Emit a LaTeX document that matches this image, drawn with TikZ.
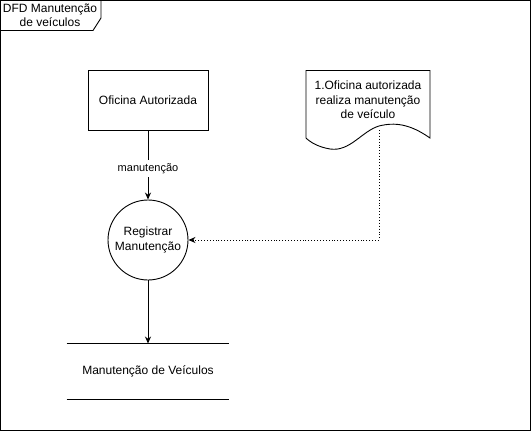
\documentclass[tikz,border=0pt]{standalone}
\usepackage{fontspec}
\setmainfont{Liberation Sans}
\usetikzlibrary{arrows.meta}
\begin{document}
\begin{tikzpicture}[x=1pt, y=-1pt, line width=0.9pt, font=\fontsize{12}{14.5}\selectfont,
  seta/.style={-{Stealth[length=7pt, width=6pt]}},
  caixa/.style={draw, minimum width=120, minimum height=60}]
  \useasboundingbox (0,0) rectangle (531,431);
  % moldura com aba do titulo
  \draw (0.5,0.5) rectangle (530.5,430.5);
  \draw (0.5,30.5) -- (93,30.5) -- (101,18) -- (101,0.5);
  \node[align=center, font=\fontsize{12}{14}\selectfont] (titulo) at (50,15) {DFD Manutenção\\de veículos};

  % entidade externa
  \node[caixa] (oficina) at (148,100) {Oficina Autorizada};

  % processo
  \node[draw, circle, minimum size=80, align=center] (registrar) at (148,240) {Registrar\\Manutenção};

  % deposito de dados
  \node[minimum width=162, minimum height=55] (deposito) at (148,371.5) {Manutenção de Veículos};
  \draw (deposito.north west) -- (deposito.north east);
  \draw (deposito.south west) -- (deposito.south east);

  % documento
  \draw (306,70.5) -- (430,70.5) -- (430,138)
    .. controls (410,124) and (395,122) .. (379,126)
    .. controls (362,131) and (350,152) .. (330,149)
    .. controls (318,147) and (310,142) .. (306,138) -- cycle;
  \node[align=center] (documento) at (368,100) {1.Oficina autorizada\\realiza manutenção\\de veículo};
  \coordinate (saida) at (379,130);

  % fluxos
  \draw[seta] (oficina) -- node[pos=0.55, fill=white, font=\fontsize{11}{13}\selectfont] (rotulo) {manutenção} (registrar);
  \draw[seta] (registrar) -- (deposito.north);
  \draw[dotted, seta] (saida) |- (registrar.east);
\end{tikzpicture}
\end{document}
